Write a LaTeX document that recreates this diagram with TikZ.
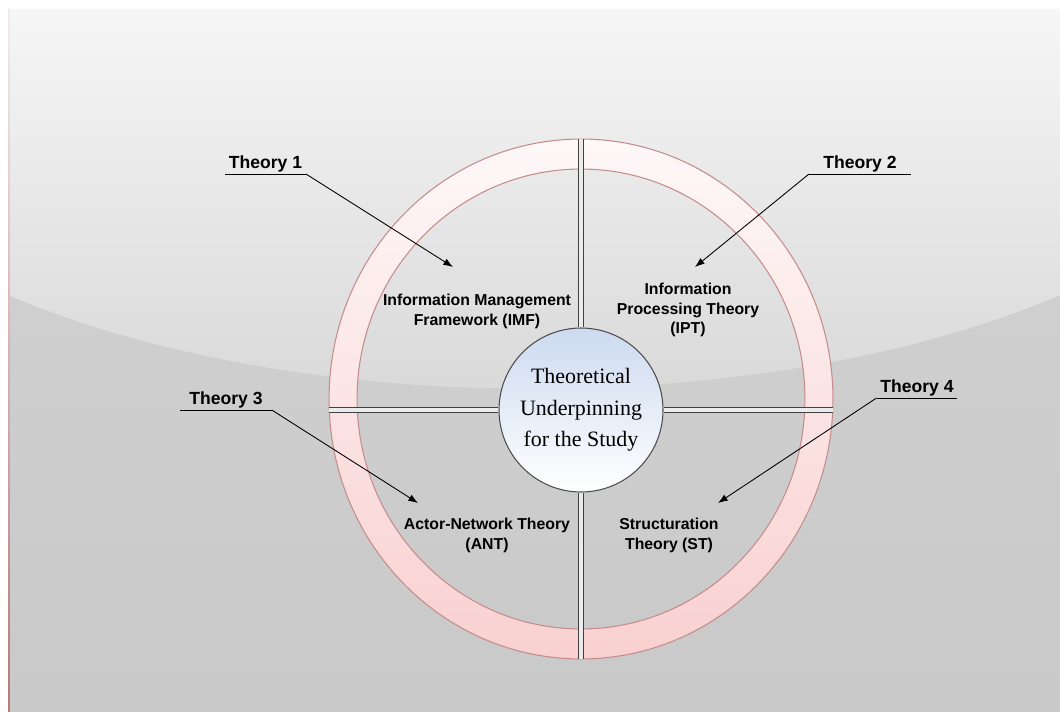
\documentclass[tikz,border=0pt]{standalone}
\usepackage{fontspec}
\setmainfont{Liberation Serif}
\setsansfont{Liberation Sans}
\usepackage{xcolor}
\definecolor{panel_top}{HTML}{F6F6F6}
\definecolor{panel_mid}{HTML}{D7D7D7}
\definecolor{panel_low}{HTML}{CFCFCF}
\definecolor{panel_bot}{HTML}{C9C9C9}
\definecolor{rim_top}{HTML}{FEF8F8}
\definecolor{rim_bot}{HTML}{F9D0D0}
\definecolor{rim_line}{HTML}{C58C8C}
\definecolor{hub_top}{HTML}{CCDAF0}
\definecolor{edge_red}{HTML}{B87878}
\usetikzlibrary{arrows.meta,positioning,shapes.geometric}

\begin{document}
\begin{tikzpicture}[x=0.02cm, y=-0.02cm]
\tikzset{
    theory/.style={font=\sffamily\bfseries\fontsize{10pt}{12pt}\selectfont, inner xsep=2pt, inner ysep=1pt, anchor=south},
    area/.style={font=\sffamily\bfseries\fontsize{9pt}{11.3pt}\selectfont, align=center, inner sep=0pt},
    spoke/.style={draw=black!75, line width=0.5pt, double=white!92!black, double distance=1.9pt},
    edge/.style={-{Latex[length=5.5pt,width=4pt]}, line width=0.5pt},
    rimline/.style={draw=rim_line, line width=0.6pt}
}
\useasboundingbox (0,0) rectangle (1060,712);
% background panel
\fill[panel_low] (8,9) rectangle (1060,712);
\shade[top color=panel_low, bottom color=panel_bot] (8,300) rectangle (1060,712);
\shade[top color=panel_top, bottom color=panel_mid] (8,9) -- (1060,9) -- (1060,295) .. controls (768,420) and (300,420) .. (8,295) -- cycle;
\shade[top color=white!85!edge_red, bottom color=edge_red] (8,9) rectangle (9.5,712);
% ring
\node[ellipse, minimum width=10.08cm, minimum height=10.4cm, inner sep=0pt, outer sep=0pt] (rim) at (581,399) {};
\shade[top color=rim_top, bottom color=rim_bot, even odd rule] (rim.center) ellipse [x radius=5.04cm, y radius=5.2cm] (rim.center) ellipse [x radius=4.48cm, y radius=4.6cm];
\draw[rimline] (rim.center) ellipse [x radius=5.04cm, y radius=5.2cm] (rim.center) ellipse [x radius=4.48cm, y radius=4.6cm];
% centre
\node[circle, minimum size=3.28cm, inner sep=0pt, draw=black!70, line width=0.6pt, top color=hub_top, bottom color=white, align=center, font=\fontsize{12.5pt}{18pt}\selectfont] (hub) at (581,410) {Theoretical\\Underpinning\\for the Study};
% spokes
\draw[spoke] (hub.north) -- (rim.north);
\draw[spoke] (hub.south) -- (rim.south);
\draw[spoke] (hub.west) -- (hub.west -| rim.west);
\draw[spoke] (hub.east) -- (hub.east -| rim.east);
% quadrants
\node[area] (imf) at (477,311) {Information Management\\Framework (IMF)};
\node[area] (ipt) at (688,310) {Information\\Processing Theory\\(IPT)};
\node[area] (ant) at (487,535) {Actor-Network Theory\\(ANT)};
\node[area] (st) at (669,535) {Structuration\\Theory (ST)};
% theory labels
\node[theory] (t1) at (265.5,174) {Theory 1};
\node[theory, inner xsep=8pt] (t2) at (860,174) {Theory 2};
\node[theory, inner xsep=5pt] (t3) at (226,410) {Theory 3};
\node[theory] (t4) at (917,398) {Theory 4};
\coordinate (p1) at (453,267);
\coordinate (p2) at (695,267);
\coordinate (p3) at (418,503);
\coordinate (p4) at (718,503);
% underlines and arrows
\draw (t1.south west) -- (t1.south east);
\draw (t2.south west) -- (t2.south east);
\draw (t3.south west) -- (t3.south east);
\draw (t4.south west) -- (t4.south east);
\draw[edge] (t1.south east) -- (p1);
\draw[edge] (t2.south west) -- (p2);
\draw[edge] (t3.south east) -- (p3);
\draw[edge] (t4.south west) -- (p4);
\end{tikzpicture}
\end{document}
